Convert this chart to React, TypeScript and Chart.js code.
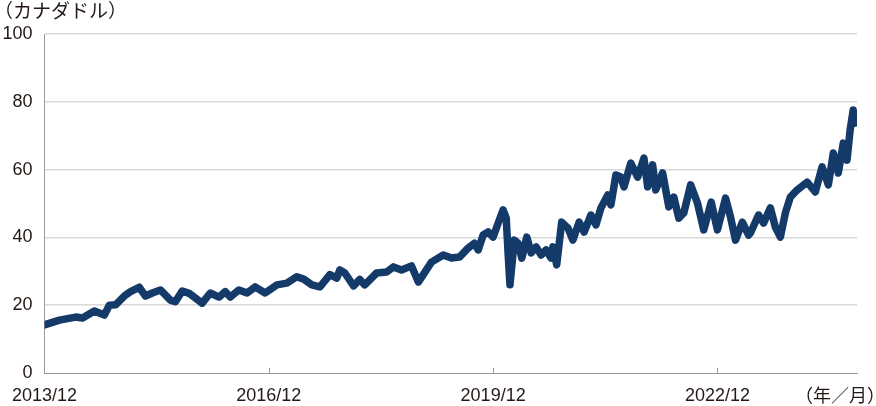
import React, { useEffect, useRef } from "react";
import { Chart, registerables } from "chart.js";

Chart.register(...registerables);

// months elapsed since 2013/12
const monthIndex: number[] = [
  0, 2.4, 5, 6.1, 8, 9.6, 10.4, 11.4, 12.8, 13.8, 15.2, 16.2, 17.3, 18.6, 20.2, 21, 22.1, 23.2,
  24, 25.3, 26.6, 28, 29, 29.8, 31.2, 32.5, 33.8, 35.4, 37.3, 38.9, 40.5, 41.6, 42.9, 44.2, 45.8,
  46.9, 47.4, 48.2, 49.6, 50.6, 51.4, 53.3, 54.9, 56, 57.3, 58.9, 60, 62.1, 64, 65.3, 66.6, 68,
  69, 69.6, 70.4, 71.2, 72, 72.8, 73.6, 74.1, 74.4, 74.7, 75.4, 76, 76.6, 77.4, 78.1, 78.9, 79.7,
  80.5, 81.3, 81.6, 82.2, 83, 84, 84.8, 85.8, 86.6, 87.7, 88.5, 89.3, 90.4, 90.9, 91.7, 92.5, 93,
  94.1, 95.2, 96.2, 96.8, 97.6, 98.1, 99.2, 100.2, 101, 101.8, 102.6, 103.7, 104.8, 105.8, 107,
  108, 109.3, 110.1, 110.9, 112, 113, 113.3, 114.6, 115.4, 116.5, 117.3, 118.1, 118.9, 119.7,
  120.8, 122.4, 123.7, 124.8, 125.8, 126.6, 127.4, 128.2, 128.8, 129.3, 129.8, 130.1,
];

// share price (CAD)
const priceCAD: number[] = [
  14.2, 15.6, 16.5, 16.2, 18.3, 17.1, 20, 20.1, 22.7, 24, 25.3, 22.7, 23.6, 24.5, 21.5, 21, 24.2, 23.5,
  22.4, 20.6, 23.6, 22.4, 24, 22.4, 24.5, 23.6, 25.4, 23.6, 26, 26.5, 28.4, 27.7, 26, 25.4, 29,
  28, 30.4, 29.5, 25.7, 27.6, 26, 29.5, 29.8, 31.3, 30.4, 31.6, 26.8, 32.7, 34.8, 33.9, 34.2, 36.9,
  38.3, 36.3, 40.7, 41.6, 40.1, 44.2, 48.1, 45.7, 35.4, 26, 39.2, 38.3, 33.9, 40.1, 35.4, 37.2, 34.8,
  36.3, 33.9, 37.2, 31.9, 44.5, 42.8, 39.2, 44.5, 41.6, 46.6, 43.7, 48.7, 52.5, 49.6, 58.4, 57.8, 54.9,
  61.9, 57.8, 63.4, 54.9, 61.4, 54, 59, 49, 51.9, 45.7, 47.2, 55.5, 50.1, 42.2, 50.4,
  42.2, 51.6, 46, 39.2, 44.5, 40.7, 41.3, 46.6, 44.2, 48.7, 43, 40.1, 47.2, 51.9,
  54, 56.3, 53.4, 60.8, 55.5, 64.9, 59, 67.8, 62.8, 71.7, 77.6, 73.7,
];

const xTickMonths: number[] = [0, 36, 72, 108];
const xTickLabels: string[] = ["2013/12", "2016/12", "2019/12", "2022/12"];
const yTicks: number[] = [0, 20, 40, 60, 80, 100];

const yUnit = "（カナダドル）";
const xUnit = "（年／月）";

const TEXT = "#231815";
const NUM_FONT = "'Liberation Sans', Arial, sans-serif";
const JP_FONT = "'Noto Sans CJK JP', sans-serif";

export default function App() {
  const ref = useRef<HTMLCanvasElement | null>(null);

  useEffect(() => {
    document.body.style.margin = "0";
    const canvas = ref.current;
    if (!canvas) return;

    const extras = {
      id: "extras",
      afterDraw(chart: any) {
        const ctx = chart.ctx;
        const area = chart.chartArea;
        const xs = chart.scales.x;
        ctx.save();
        // inward tick marks on x axis
        ctx.strokeStyle = "#9a9a9a";
        ctx.lineWidth = 1;
        xTickMonths.slice(1).forEach((m) => {
          const px = Math.round(xs.getPixelForValue(m)) + 0.5;
          ctx.beginPath();
          ctx.moveTo(px, area.bottom - 5);
          ctx.lineTo(px, area.bottom);
          ctx.stroke();
        });
        ctx.fillStyle = TEXT;
        ctx.textBaseline = "middle";
        ctx.textAlign = "left";
        ctx.font = `19px ${JP_FONT}`;
        ctx.fillText(yUnit, -6, 11);
        ctx.font = `18px ${JP_FONT}`;
        ctx.fillText(xUnit, 795, 395);
        ctx.restore();
      },
    };

    const chart = new Chart(canvas, {
      type: "line",
      data: {
        datasets: [
          {
            data: monthIndex.map((m, i) => ({ x: m, y: priceCAD[i] })),
            borderColor: "#143a6a",
            borderWidth: 7.5,
            borderJoinStyle: "round",
            borderCapStyle: "round",
            pointRadius: 0,
            tension: 0,
            fill: false,
          },
        ],
      },
      options: {
        animation: false,
        responsive: false,
        devicePixelRatio: 1,
        layout: { padding: { top: 34, right: 19, left: 0, bottom: 0 } },
        plugins: { legend: { display: false }, tooltip: { enabled: false } },
        scales: {
          x: {
            type: "linear",
            min: 0,
            max: 130.4,
            afterFit: (s: any) => {
              s.height = 33;
            },
            afterBuildTicks: (s: any) => {
              s.ticks = xTickMonths.map((v) => ({ value: v }));
            },
            ticks: {
              autoSkip: false,
              maxRotation: 0,
              padding: 12,
              color: TEXT,
              font: { family: NUM_FONT, size: 18 },
              callback: (v: any) => {
                const i = xTickMonths.indexOf(Number(v));
                return i >= 0 ? xTickLabels[i] : "";
              },
            },
            grid: { display: false, drawTicks: false },
            border: { display: true, color: "#9a9a9a", width: 1 },
          },
          y: {
            min: 0,
            max: 100,
            afterFit: (s: any) => {
              s.width = 42;
            },
            afterBuildTicks: (s: any) => {
              s.ticks = yTicks.map((v) => ({ value: v }));
            },
            ticks: {
              padding: 12,
              color: TEXT,
              font: { family: NUM_FONT, size: 18 },
            },
            grid: {
              drawTicks: false,
              color: (c: any) => (c.tick && c.tick.value === 0 ? "rgba(0,0,0,0)" : "#d9d9d9"),
              lineWidth: 1.5,
            },
            border: { display: true, color: "#9a9a9a", width: 1 },
          },
        },
      },
      plugins: [extras],
    } as any);

    return () => chart.destroy();
  }, []);

  return (
    <div style={{ width: 876, height: 406, position: "relative", background: "#fff" }}>
      <canvas ref={ref} width={876} height={406} style={{ width: 876, height: 406, display: "block" }} />
    </div>
  );
}
